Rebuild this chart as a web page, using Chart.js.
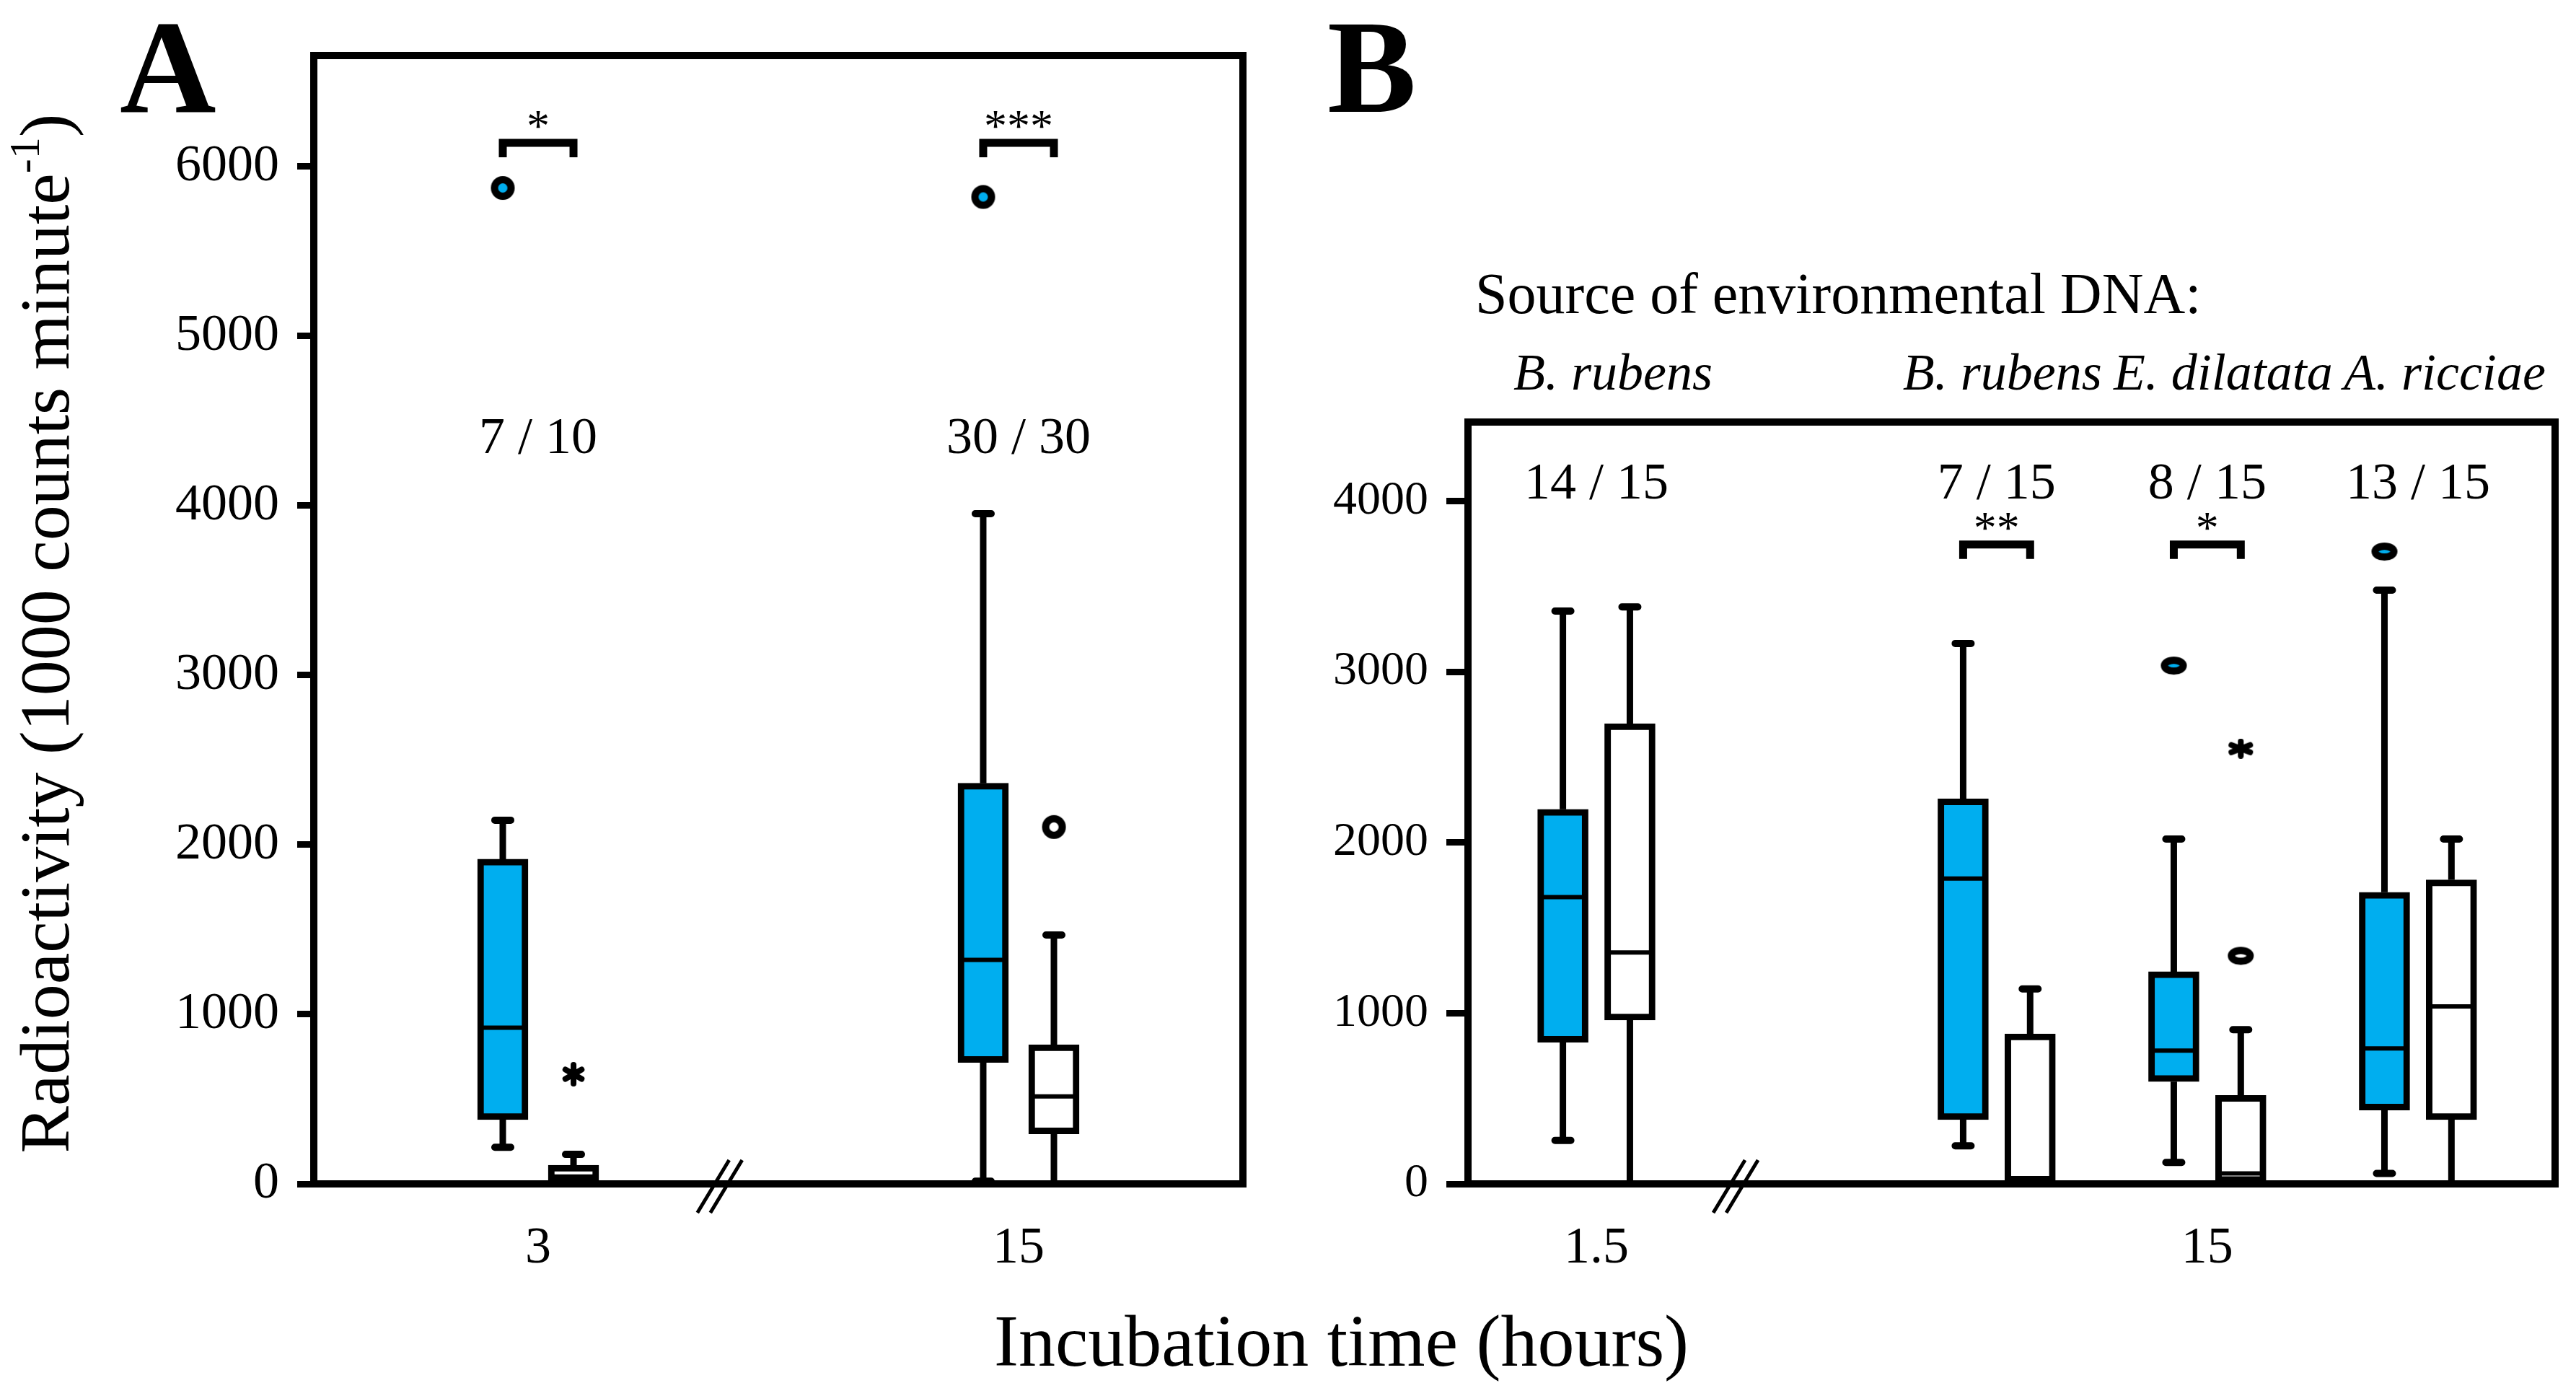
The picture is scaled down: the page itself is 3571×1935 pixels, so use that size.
<!DOCTYPE html>
<html>
<head>
<meta charset="utf-8">
<script src="https://cdn.jsdelivr.net/npm/chart.js@4/dist/chart.umd.min.js"></script>
<style>
  html, body { margin: 0; padding: 0; background: #fff; overflow: hidden; }
  canvas { position: absolute; left: 0; top: 0; }
</style>
</head>
<body>
<canvas id="chartA" width="3571" height="1935"></canvas>
<canvas id="chartB" width="3571" height="1935"></canvas>
<script>
// Panel A data: five-number summaries are [min, q1, median, q3, max]
const timesA = ['3', '15'];
const blueBoxA = [[216, 379, 921, 1915, 2145], [16, 716, 1321, 2363, 3953]];
const whiteBoxA = [[0, 0, 10, 110, 174], [0, 295, 516, 821, 1468]];
const blueOutA = [[0, 5874], [1, 5821]];
const whiteOutA = [[1, 2105]];
const whiteExtA = [[0, 647]];
const countsA = ['7 / 10', '30 / 30'];
const sigA = ['*', '***'];
const yTicksA = [0, 1000, 2000, 3000, 4000, 5000, 6000];

// Panel B data
const timesB = ['1.5', '15'];
const sourcesB = ['B. rubens', 'B. rubens', 'E. dilatata', 'A. ricciae'];
const blueBoxB = [[255, 830, 1680, 2194, 3356], [223, 377, 1789, 2255, 3166],
                  [126, 599, 781, 1243, 2020], [61, 433, 794, 1708, 3478]];
const whiteBoxB = [[0, 960, 1356, 2696, 3380], [0, 10, 32, 879, 1142],
                   [0, 8, 61, 518, 903], [0, 377, 1040, 1781, 2020]];
const blueOutB = [[2, 3036], [3, 3704]];
const whiteOutB = [[2, 1336]];
const whiteExtB = [[2, 2550]];
const countsB = ['14 / 15', '7 / 15', '8 / 15', '13 / 15'];
const sigB = ['', '**', '*', ''];
const yTicksB = [0, 1000, 2000, 3000, 4000];

const BLUE = '#00AEEF';
const SERIF = '"Liberation Serif", "DejaVu Serif", serif';
const W = 3571, H = 1935;

// marker images, drawn by Chart.js at each point
function ringMarker(rx, ry, lw, fill) {
  const c = document.createElement('canvas');
  c.width = Math.ceil(2 * rx + lw + 2);
  c.height = Math.ceil(2 * ry + lw + 2);
  const g = c.getContext('2d');
  g.beginPath();
  g.ellipse(c.width / 2, c.height / 2, rx, ry, 0, 0, Math.PI * 2);
  g.fillStyle = fill;
  g.fill();
  g.lineWidth = lw;
  g.strokeStyle = '#000';
  g.stroke();
  return c;
}
function asteriskMarker(w, h, lw) {
  const c = document.createElement('canvas');
  c.width = w;
  c.height = h;
  const g = c.getContext('2d');
  g.strokeStyle = '#000';
  g.lineWidth = lw;
  g.lineCap = 'round';
  const rx = w / 2 - lw / 2, ry = h / 2 - lw / 2;
  for (let k = 0; k < 3; k++) {
    const a = Math.PI / 2 + k * Math.PI / 3;
    g.beginPath();
    g.moveTo(w / 2 + rx * Math.cos(a), h / 2 + ry * Math.sin(a));
    g.lineTo(w / 2 - rx * Math.cos(a), h / 2 - ry * Math.sin(a));
    g.stroke();
  }
  return c;
}

function buildPanel(id, p) {
  const xOf = (g, side) => p.slots[g] + side * p.off;
  const boxData = (boxes, side) => boxes.map((b, g) => ({ x: xOf(g, side), y: [b[1], b[3]] }));
  const ptData = (pts, side) => pts.map(([g, v]) => ({ x: xOf(g, side), y: v }));
  const pointDs = (data, style) => ({ type: 'scatter', data, pointStyle: style, pointRadius: 16 });
  const barDs = (data, fill) => ({
    data, backgroundColor: fill, borderColor: '#000', borderWidth: 9,
    borderSkipped: false, barThickness: 70, grouped: false
  });

  const parts = {
    id: 'parts' + id,
    afterDatasetsDraw(chart) {
      const { ctx, scales: { x, y } } = chart;
      ctx.save();
      ctx.strokeStyle = '#000';
      [[p.blue, -1], [p.white, 1]].forEach(([boxes, side]) => {
        boxes.forEach((b, g) => {
          const px = x.getPixelForValue(xOf(g, side));
          const [mn, q1, md, q3, mx] = b.map(v => y.getPixelForValue(v));
          ctx.lineWidth = 9;
          ctx.lineCap = 'butt';
          ctx.beginPath();
          if (b[0] < b[1]) { ctx.moveTo(px, q1); ctx.lineTo(px, mn); }
          if (b[4] > b[3]) { ctx.moveTo(px, q3); ctx.lineTo(px, mx); }
          ctx.stroke();
          ctx.lineWidth = 10;
          ctx.lineCap = 'round';
          ctx.beginPath();
          if (b[0] < b[1]) { ctx.moveTo(px - 11, mn); ctx.lineTo(px + 11, mn); }
          if (b[4] > b[3]) { ctx.moveTo(px - 11, mx); ctx.lineTo(px + 11, mx); }
          ctx.stroke();
          ctx.lineCap = 'butt';
          ctx.lineWidth = 6;
          ctx.beginPath();
          ctx.moveTo(px - 27, md);
          ctx.lineTo(px + 27, md);
          ctx.stroke();
        });
      });
      // counts and significance brackets
      ctx.fillStyle = '#000';
      ctx.textAlign = 'center';
      p.counts.forEach((t, g) => {
        ctx.font = `72px ${SERIF}`;
        ctx.textBaseline = 'middle';
        ctx.fillText(t, x.getPixelForValue(p.slots[g]), y.getPixelForValue(p.countY));
      });
      p.sig.forEach((t, g) => {
        if (!t) return;
        const x0 = x.getPixelForValue(xOf(g, -1)), x1 = x.getPixelForValue(xOf(g, 1));
        const by = y.getPixelForValue(p.sigY);
        ctx.lineWidth = 11;
        ctx.lineCap = 'butt';
        ctx.lineJoin = 'miter';
        ctx.beginPath();
        ctx.moveTo(x0, by + 20);
        ctx.lineTo(x0, by);
        ctx.lineTo(x1, by);
        ctx.lineTo(x1, by + 20);
        ctx.stroke();
        ctx.font = `64px ${SERIF}`;
        ctx.textBaseline = 'alphabetic';
        ctx.fillText(t, (x0 + x1) / 2, by - 2);
      });
      ctx.restore();
    },
    afterDraw(chart) {
      const { ctx, chartArea: a, scales: { x } } = chart;
      ctx.save();
      ctx.strokeStyle = '#000';
      ctx.lineWidth = 10;
      ctx.lineJoin = 'miter';
      ctx.strokeRect(a.left, a.top, a.right - a.left, a.bottom - a.top);
      // axis break
      const bx = x.getPixelForValue(p.breakAt);
      ctx.lineWidth = 5;
      ctx.beginPath();
      [-9, 9].forEach(d => {
        ctx.moveTo(bx + d - 22, a.bottom + 40);
        ctx.lineTo(bx + d + 22, a.bottom - 33);
      });
      ctx.stroke();
      ctx.fillStyle = '#000';
      ctx.font = `bold 185px ${SERIF}`;
      ctx.textAlign = 'left';
      ctx.textBaseline = 'alphabetic';
      ctx.fillText(p.letter, p.letterX, 155);
      if (p.extra) p.extra(chart);
      ctx.restore();
    }
  };

  return new Chart(document.getElementById(id), {
    type: 'bar',
    data: {
      datasets: [
        barDs(boxData(p.blue, -1), BLUE),
        barDs(boxData(p.white, 1), '#fff'),
        pointDs(ptData(p.blueOut, -1), p.marks.blue),
        pointDs(ptData(p.whiteOut, 1), p.marks.white),
        pointDs(ptData(p.whiteExt, 1), p.marks.star)
      ]
    },
    options: {
      responsive: false,
      devicePixelRatio: 1,
      animation: false,
      layout: { padding: p.padding },
      plugins: { legend: { display: false }, tooltip: { enabled: false } },
      scales: {
        x: {
          type: 'linear', min: p.xMin, max: p.xMax, offset: false,
          afterFit: s => { s.height = H - p.bottom; },
          afterBuildTicks: s => { s.ticks = p.tickSlots.map(v => ({ value: v })); },
          grid: { display: false },
          border: { display: false },
          ticks: {
            autoSkip: false, maxRotation: 0, padding: 39, color: '#000',
            font: { family: SERIF, size: 72 },
            callback: (v, i) => p.times[i]
          }
        },
        y: {
          type: 'linear', min: 0, max: p.yMax,
          afterFit: s => { s.width = p.left; },
          afterBuildTicks: s => { s.ticks = p.yTicks.map(v => ({ value: v })); },
          grid: { drawOnChartArea: false, tickLength: p.tickLen, lineWidth: 9, color: '#000' },
          border: { display: false },
          ticks: {
            padding: 25, color: '#000',
            font: { family: SERIF, size: p.tickSize },
            callback: v => String(v)
          }
        }
      }
    },
    plugins: [parts]
  });
}

buildPanel('chartA', {
  letter: 'A', letterX: 166,
  slots: [0, 1], tickSlots: [0, 1], times: timesA,
  xMin: -0.467, xMax: 1.467, off: 0.0736, breakAt: 0.378,
  yMax: 6655, yTicks: yTicksA, tickSize: 72, tickLen: 23,
  countY: 4391, sigY: 6140,
  blue: blueBoxA, white: whiteBoxA, blueOut: blueOutA, whiteOut: whiteOutA, whiteExt: whiteExtA,
  marks: { blue: ringMarker(11.5, 11.5, 10, BLUE), white: ringMarker(11.5, 11.5, 10, '#fff'), star: asteriskMarker(34, 34, 8) },
  counts: countsA, sig: sigA,
  left: 435, bottom: 1641, padding: { left: 0, top: 77, right: W - 1723, bottom: 0 },
  extra(chart) {
    const ctx = chart.ctx;
    ctx.save();
    ctx.translate(62, 878);
    ctx.rotate(-Math.PI / 2);
    const main = 'Radioactivity (1000 counts minute', sup = '-1', end = ')';
    ctx.font = `98px ${SERIF}`;
    const w1 = ctx.measureText(main).width, w3 = ctx.measureText(end).width;
    ctx.font = `60px ${SERIF}`;
    const w2 = ctx.measureText(sup).width;
    const sx = -(w1 + w2 + w3) / 2;
    ctx.textAlign = 'left';
    ctx.textBaseline = 'alphabetic';
    ctx.font = `98px ${SERIF}`;
    ctx.fillText(main, sx, 33);
    ctx.font = `60px ${SERIF}`;
    ctx.fillText(sup, sx + w1, -8);
    ctx.font = `98px ${SERIF}`;
    ctx.fillText(end, sx + w1 + w2, 33);
    ctx.restore();
  }
});

const slotsB = [0, 1.9, 2.9, 3.9];
const sourceShiftB = [23, 8, 22, 37];
buildPanel('chartB', {
  letter: 'B', letterX: 1840,
  slots: slotsB, tickSlots: [0, 2.9], times: timesB,
  xMin: -0.6096, xMax: 4.551, off: 0.159, breakAt: 0.661,
  yMax: 4463, yTicks: yTicksB, tickSize: 66, tickLen: 30,
  countY: 4097, sigY: 3746,
  blue: blueBoxB, white: whiteBoxB, blueOut: blueOutB, whiteOut: whiteOutB, whiteExt: whiteExtB,
  marks: { blue: ringMarker(13, 7.5, 10, BLUE), white: ringMarker(13, 7.5, 10, '#fff'), star: asteriskMarker(38, 28, 8) },
  counts: countsB, sig: sigB,
  left: 2035, bottom: 1641, padding: { left: 0, top: 585, right: W - 3542, bottom: 0 },
  extra(chart) {
    const { ctx, scales: { x } } = chart;
    ctx.fillStyle = '#000';
    ctx.textBaseline = 'alphabetic';
    ctx.textAlign = 'left';
    ctx.font = `80px ${SERIF}`;
    ctx.fillText('Source of environmental DNA:', 2045, 434);
    ctx.textAlign = 'center';
    ctx.font = `italic 72px ${SERIF}`;
    sourcesB.forEach((s, g) => {
      ctx.fillText(s, x.getPixelForValue(slotsB[g]) + sourceShiftB[g], 540);
    });
    ctx.font = `102px ${SERIF}`;
    ctx.textAlign = 'left';
    ctx.textBaseline = 'middle';
    ctx.fillText('Incubation time (hours)', 1378, 1866);
  }
});
</script>
</body>
</html>
